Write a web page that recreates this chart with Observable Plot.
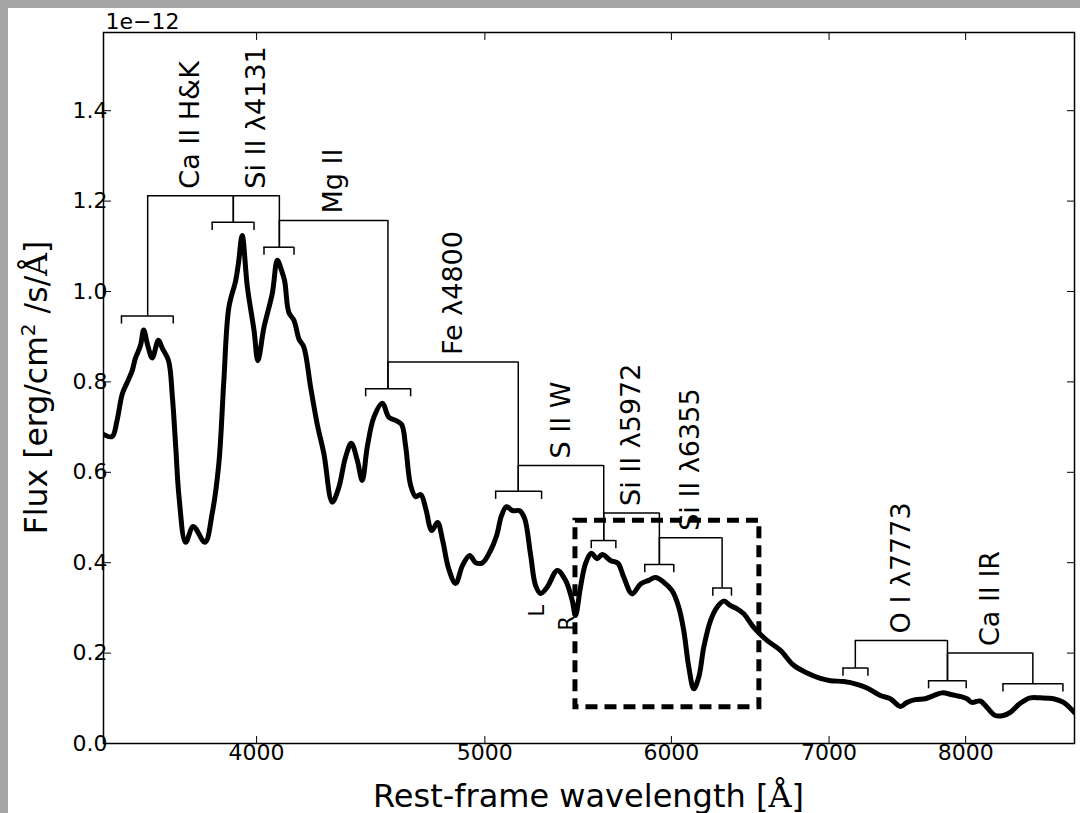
<!DOCTYPE html>
<html><head><meta charset="utf-8">
<script src="https://cdn.jsdelivr.net/npm/d3@7"></script>
<script src="https://cdn.jsdelivr.net/npm/@observablehq/plot@0.6"></script>
<style>
html,body{margin:0;padding:0;background:#a5a5a5;width:1080px;height:813px;overflow:hidden;}
#fig{position:absolute;left:8px;top:8px;width:1072px;height:805px;background:#fff;}
svg{display:block;overflow:visible;}
</style></head><body><div id="fig"></div>
<script>
// Spectrum (rest-frame wavelength in Å, flux in units of 1e-12 erg/cm^2/s/Å)
const wave = [3444,3473,3490,3508,3525,3542,3553,3571,3582,3596,
3612,3634,3648,3670,3684,3696,3708,3732,3760,3803,
3830,3855,3874,3893,3919,3930,3944,3964,3990,4005,
4029,4062,4082,4099,4111,4128,4149,4169,4189,4217,
4244,4272,4307,4335,4363,4388,4414,4435,4457,4486,
4523,4552,4582,4609,4627,4650,4673,4696,4719,4747,
4774,4798,4826,4859,4892,4926,4955,4989,5028,5058,
5082,5107,5137,5173,5198,5229,5254,5280,5314,5367,
5410,5446,5463,5490,5517,5548,5580,5608,5653,5694,
5727,5774,5822,5869,5907,5955,6004,6043,6073,6103,
6133,6163,6193,6234,6275,6315,6357,6398,6440,6503,
6588,6675,6762,6851,6941,7009,7101,7194,7265,7360,
7432,7505,7554,7616,7690,7753,7817,7894,7958,8010,
8049,8115,8168,8234,8301,8356,8438,8521,8605,8717,
8803,8896];
const flux = [0.684,0.679,0.715,0.774,0.799,0.825,0.852,0.881,0.915,0.881,
0.853,0.892,0.874,0.847,0.766,0.656,0.545,0.445,0.480,0.445,
0.509,0.619,0.803,0.965,1.024,1.064,1.124,1.010,0.914,0.847,
0.921,0.996,1.069,1.046,1.024,0.954,0.936,0.895,0.877,0.788,
0.707,0.641,0.534,0.567,0.633,0.664,0.626,0.582,0.656,0.722,
0.753,0.722,0.715,0.706,0.659,0.571,0.546,0.551,0.520,0.471,
0.489,0.449,0.387,0.354,0.394,0.416,0.400,0.400,0.427,0.460,
0.504,0.524,0.515,0.515,0.498,0.416,0.350,0.332,0.346,0.383,
0.361,0.316,0.283,0.346,0.398,0.421,0.409,0.418,0.405,0.399,
0.368,0.331,0.353,0.361,0.367,0.357,0.338,0.302,0.250,0.169,
0.121,0.147,0.213,0.272,0.302,0.315,0.305,0.298,0.287,0.257,
0.228,0.206,0.173,0.156,0.144,0.139,0.137,0.131,0.123,0.106,
0.099,0.082,0.091,0.097,0.099,0.106,0.112,0.108,0.104,0.099,
0.091,0.094,0.080,0.062,0.062,0.069,0.089,0.101,0.101,0.099,
0.091,0.069];

// Emission-peak brackets
const bracketLeft   = [3505,3830,4029,4450,5053,5548,5846,6248,7096,7715,8297];
const bracketRight  = [3687,3990,4149,4650,5285,5683,6014,6363,7271,8004,8798];
const bracketCenter = [3596,3910,4090,4548,5166,5616,5930,6305,7182,7859,8543];
const bracketFlux   = [0.946,1.153,1.098,0.785,0.558,0.449,0.396,0.344,0.167,0.139,0.132];

// Features joining two brackets
const featureNames = ["Ca II H&K","Si II λ4131","Mg II","Fe λ4800","S II W","Si II λ5972","Si II λ6355","O I λ7773","Ca II IR"];
const featureFrom  = [0,1,2,3,4,5,6,8,9];
const featureTo    = [1,2,3,4,5,6,7,9,10];
const featureFlux  = [1.212,1.212,1.157,0.844,0.615,0.510,0.455,0.228,0.200];

// Small L / R markers
const markerText = ["L","R"];
const markerWave = [5264,5421];
const markerFlux = [0.281,0.250];

// Dashed zoom box
const boxWave = [5463,6539];
const boxFlux = [0.080,0.493];

// Axes
const xDomain = [3444,8898];
const yDomain = [0,1.573];
const xTicks = [4000,5000,6000,7000,8000];
const yTicks = [0,0.2,0.4,0.6,0.8,1.0,1.2,1.4];
const yOffsetLabel = "1e\u221212";

const spectrum = wave.map((w,i)=>({w, f: flux[i]}));
const brackets = bracketLeft.map((l,i)=>({l, r: bracketRight[i], c: bracketCenter[i], f: bracketFlux[i]}));
const tickLen = 0.018;
const bracketEnds = brackets.flatMap(d=>[{x:d.l, f:d.f},{x:d.r, f:d.f}]);
const features = featureNames.map((name,i)=>({
  name,
  a: bracketCenter[featureFrom[i]], b: bracketCenter[featureTo[i]],
  fa: bracketFlux[featureFrom[i]], fb: bracketFlux[featureTo[i]],
  f: featureFlux[i]
}));
const stems = features.flatMap(d=>[{x:d.a, y1:d.fa, y2:d.f},{x:d.b, y1:d.fb, y2:d.f}]);
const markers = markerText.map((t,i)=>({t, w: markerWave[i], f: markerFlux[i]}));

const W = 1072, H = 805, mL = 95, mR = 6, mT = 24, mB = 70;
const font = "DejaVu Sans";
const tickFont = 22;

const chart = Plot.plot({
  width: W, height: H,
  marginLeft: mL, marginRight: mR, marginTop: mT, marginBottom: mB,
  x: {type: "log", domain: xDomain},
  y: {domain: yDomain},
  style: {fontFamily: font, fontSize: tickFont + "px", background: "white", color: "black"},
  marks: [
    Plot.line(spectrum, {x: "w", y: "f", stroke: "black", strokeWidth: 5, curve: "catmull-rom", strokeLinejoin: "round", clip: true}),
    Plot.rect([0], {x1: () => boxWave[0], x2: () => boxWave[1], y1: () => boxFlux[0], y2: () => boxFlux[1], fill: "none", stroke: "black", strokeWidth: 5, strokeDasharray: "12,7"}),
    Plot.ruleY(brackets, {y: "f", x1: "l", x2: "r", stroke: "black", strokeWidth: 1.5}),
    Plot.ruleX(bracketEnds, {x: "x", y1: "f", y2: d => d.f - tickLen, stroke: "black", strokeWidth: 1.5}),
    Plot.ruleY(features, {y: "f", x1: "a", x2: "b", stroke: "black", strokeWidth: 1.5}),
    Plot.ruleX(stems, {x: "x", y1: "y1", y2: "y2", stroke: "black", strokeWidth: 1.5}),
    Plot.text(features, {x: d => Math.sqrt(d.a * d.b), y: "f", text: "name", rotate: -90, textAnchor: "start", dy: -7, fontSize: 27, fill: "black"}),
    Plot.text(markers, {x: "w", y: "f", text: "t", rotate: -90, textAnchor: "start", fontSize: 21, fill: "black"}),
    Plot.frame({stroke: "black", strokeWidth: 1.5}),
    Plot.axisX(xTicks, {anchor: "bottom", tickSize: -7, tickPadding: 8, fontSize: tickFont, tickFormat: d => String(d), label: null, stroke: "black"}),
    Plot.axisX(xTicks, {anchor: "top", tickSize: -7, tickFormat: () => "", label: null, stroke: "black"}),
    Plot.axisY(yTicks, {anchor: "left", tickSize: -8, tickPadding: 4, fontSize: tickFont, tickFormat: d3.format(".1f"), label: null, stroke: "black"}),
    Plot.axisY(yTicks, {anchor: "right", tickSize: -8, tickFormat: () => "", label: null, stroke: "black"}),
    Plot.text([yOffsetLabel], {frameAnchor: "top-left", textAnchor: "start", lineAnchor: "bottom", dx: 2, dy: -4, fontSize: 22, fill: "black"})
  ]
});
document.getElementById("fig").appendChild(chart);

// Make sure every text of the chart uses DejaVu Sans, and tick labels the tick size
const svg = d3.select(chart);
svg.attr("font-family", font).style("font-family", font);
svg.selectAll("text").each(function() {
  const t = d3.select(this);
  t.style("font-family", font);
  const s = this.textContent;
  if (/^\d+(\.\d+)?$/.test(s) || s === yOffsetLabel) t.style("font-size", tickFont + "px");
});

// Axis titles with mixed fonts
const cx = mL + (W - mL - mR) / 2;
const cy = mT + (H - mT - mB) / 2;
const xl = svg.append("text")
  .attr("x", cx).attr("y", H - 6)
  .attr("text-anchor", "middle").attr("font-family", font).attr("font-size", 32).attr("fill", "black");
xl.append("tspan").text("Rest-frame wavelength [");
xl.append("tspan").attr("font-family", "DejaVu Serif").text("Å");
xl.append("tspan").text("]");

const yl = svg.append("text")
  .attr("transform", `translate(39,${cy}) rotate(-90)`)
  .attr("text-anchor", "middle").attr("font-family", font).attr("font-size", 31.5).attr("fill", "black");
yl.append("tspan").text("Flux [erg/cm");
yl.append("tspan").attr("font-size", 20).attr("dy", -12).text("2");
yl.append("tspan").attr("dy", 12).text(" /s/");
yl.append("tspan").attr("font-family", "DejaVu Serif").text("Å");
yl.append("tspan").text("]");
</script>
</body></html>
